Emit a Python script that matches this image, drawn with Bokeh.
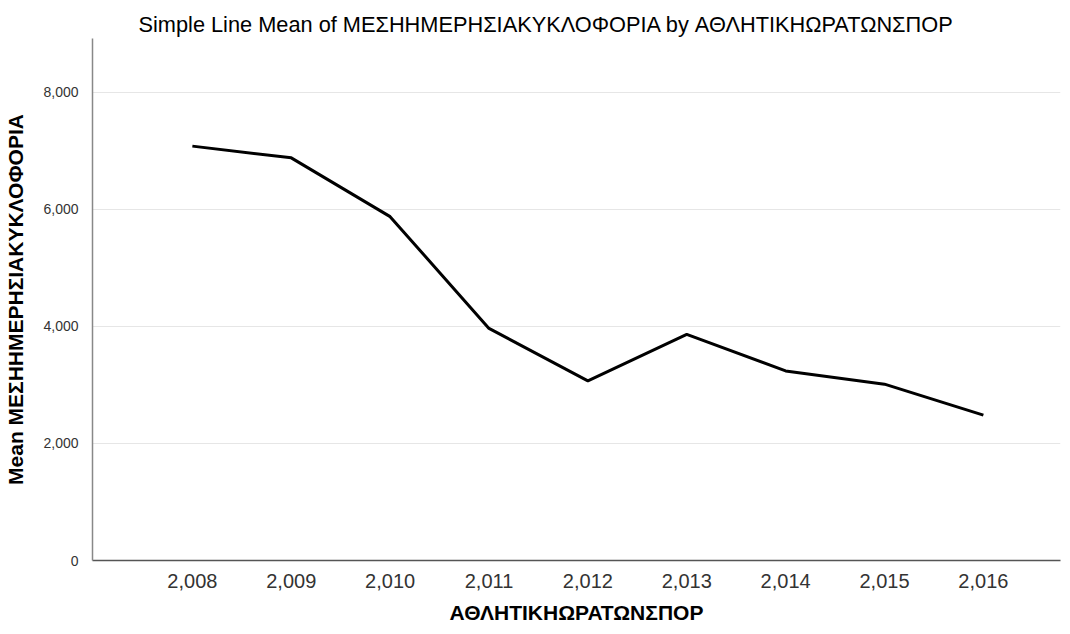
from bokeh.plotting import figure
from bokeh.models import Range1d, FixedTicker
from bokeh.embed import file_html
from bokeh.resources import INLINE

years = [2008, 2009, 2010, 2011, 2012, 2013, 2014, 2015, 2016]
year_labels = ["2,008", "2,009", "2,010", "2,011", "2,012", "2,013", "2,014", "2,015", "2,016"]
mean_traffic = [7080, 6880, 5875, 3966, 3069, 3864, 3239, 3013, 2485]
y_ticks = [0, 2000, 4000, 6000, 8000]
y_labels = ["0", "2,000", "4,000", "6,000", "8,000"]
x_title = "ΑΘΛΗΤΙΚΗΩΡΑΤΩΝΣΠΟΡ"
y_title = "Mean ΜΕΣΗΗΜΕΡΗΣΙΑΚΥΚΛΟΦΟΡΙΑ"
chart_title = "Simple Line Mean of ΜΕΣΗΗΜΕΡΗΣΙΑΚΥΚΛΟΦΟΡΙΑ by ΑΘΛΗΤΙΚΗΩΡΑΤΩΝΣΠΟΡ"

FONT = "Liberation Sans"

p = figure(width=1062, height=626, output_backend="svg", toolbar_location=None,
           x_range=Range1d(2006.99, 2016.78), y_range=Range1d(0, 8919),
           min_border_left=92, min_border_right=2, min_border_top=38, min_border_bottom=64)

p.title.text = chart_title
p.title.align = "left"
p.title.text_font = FONT
p.title.text_font_size = "21.75px"
p.title.text_font_style = "normal"
p.title.text_color = "#000000"
p.title.offset = 46
p.title.standoff = 4

p.line(years, mean_traffic, line_color="#000000", line_width=3)

p.xaxis.ticker = FixedTicker(ticks=years)
p.xaxis.major_label_overrides = {y: l for y, l in zip(years, year_labels)}
p.yaxis.ticker = FixedTicker(ticks=y_ticks)
p.yaxis.major_label_overrides = {t: l for t, l in zip(y_ticks, y_labels)}

for ax in (p.xaxis, p.yaxis):
    ax.major_tick_line_color = None
    ax.minor_tick_line_color = None
    ax.axis_line_width = 1.5
    ax.major_label_text_font = FONT
    ax.major_label_text_color = "#333333"
    ax.axis_label_text_font = FONT
    ax.axis_label_text_font_style = "bold"
    ax.axis_label_text_color = "#000000"

p.xaxis.axis_line_color = "#555555"
p.yaxis.axis_line_color = "#888888"
p.xaxis.major_label_text_font_size = "20px"
p.yaxis.major_label_text_font_size = "14px"
p.xaxis.major_label_standoff = 7
p.yaxis.major_label_standoff = 8
p.xaxis.axis_label = x_title
p.xaxis.axis_label_text_font_size = "21px"
p.xaxis.axis_label_standoff = 10
p.yaxis.axis_label = y_title
p.yaxis.axis_label_text_font_size = "21px"
p.yaxis.axis_label_standoff = 13

p.xgrid.grid_line_color = None
p.ygrid.grid_line_color = "#e6e6e6"
p.ygrid.grid_line_width = 1
p.outline_line_color = None

open("out.html", "w").write(file_html(p, INLINE))
